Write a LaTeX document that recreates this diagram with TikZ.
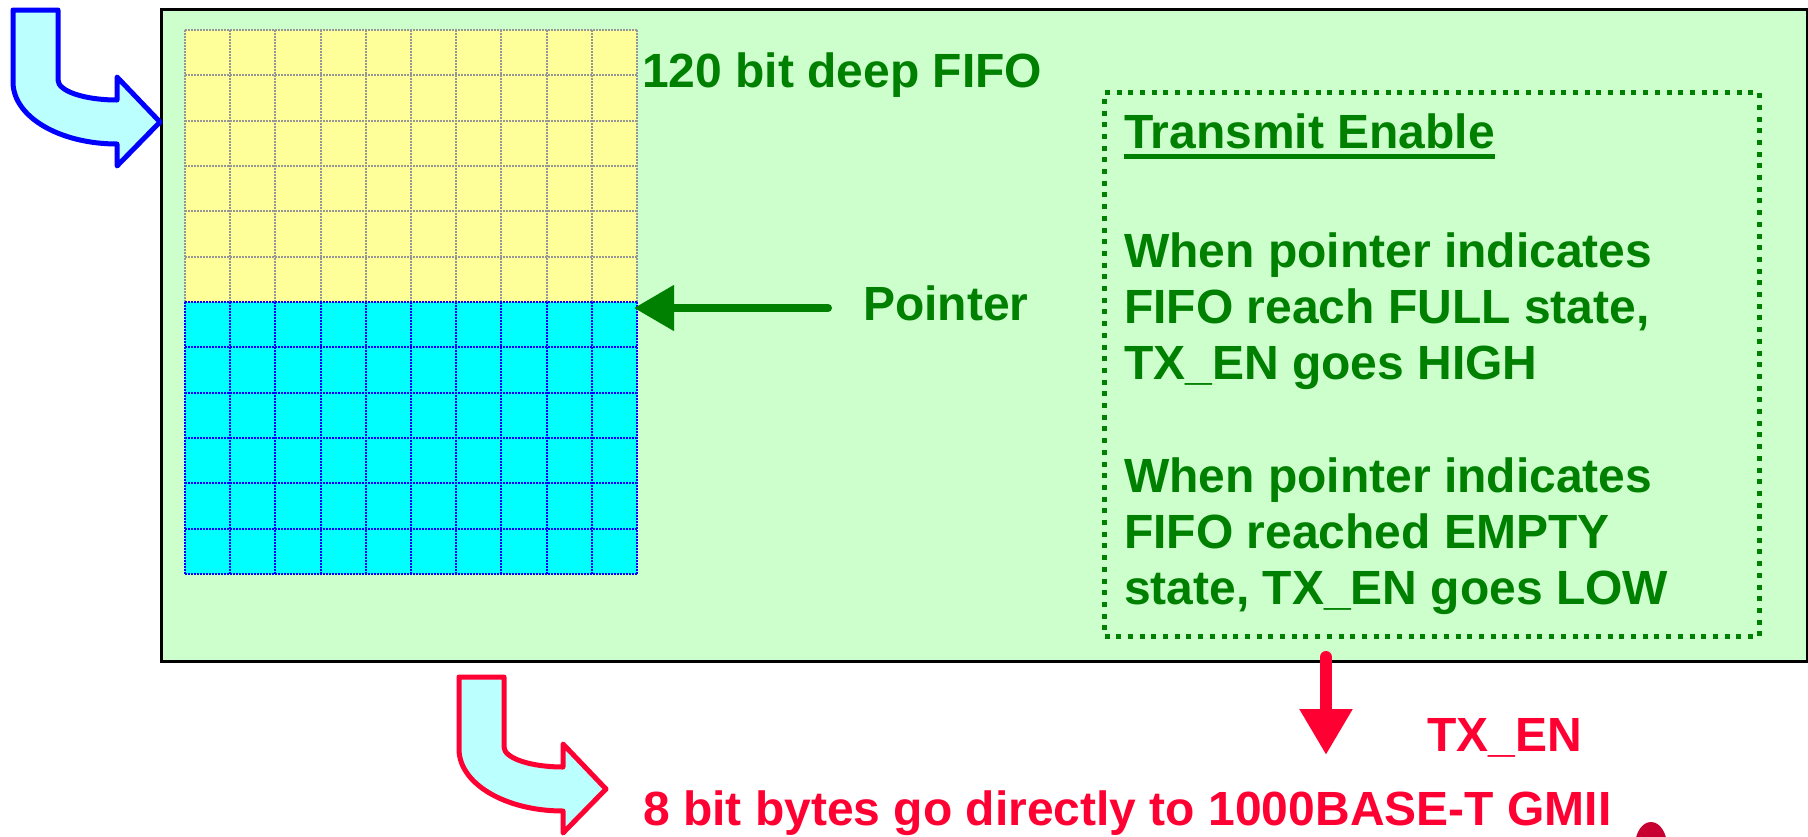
\documentclass[tikz,border=0pt]{standalone}
\usepackage{fontspec}
\setmainfont{Liberation Sans}
\usetikzlibrary{arrows.meta}
\definecolor{boxgreen}{RGB}{204,255,204}
\definecolor{txtgreen}{RGB}{0,128,0}
\definecolor{fifoyellow}{RGB}{255,255,153}
\definecolor{fifocyan}{RGB}{0,255,255}
\definecolor{arrowfill}{RGB}{187,255,255}
\definecolor{sigred}{RGB}{255,0,51}
\definecolor{gridgray}{RGB}{150,150,150}
\definecolor{blobred}{RGB}{200,0,50}
\tikzset{
  txt/.style={font=\fontsize{48}{56.2}\selectfont\bfseries, inner sep=0pt, text=txtgreen},
  redtxt/.style={txt, text=sigred},
  mainbox/.style={draw=black, line width=2.5pt, fill=boxgreen, inner sep=0pt, anchor=north west},
  tebox/.style={draw=txtgreen, line width=5pt, dash pattern=on 5pt off 6.7pt, inner sep=0pt, anchor=north west},
  cellarea/.style={inner sep=0pt, anchor=north west, minimum width=452pt, minimum height=272pt},
  ydots/.style={draw=gridgray, line width=2pt, dash pattern=on 1.5pt off 1.5pt},
  bdots/.style={draw=blue, line width=2pt, dash pattern=on 1.5pt off 1.5pt},
  underl/.style={draw=txtgreen, line width=5pt},
  ptrarrow/.style={draw=txtgreen, line width=8pt, line cap=round, -{Triangle[length=40pt,width=44pt]}},
  txarrow/.style={draw=sigred, line width=12pt, line cap=round, -{Triangle[length=46pt,width=50pt]}},
  bentarrow/.pic={\path[pic actions] (0,0) -- (45,0) -- (45,70) .. controls (45,81) and (71,90) .. (104,90) -- (104,67) -- (147,112) -- (104,156) -- (104,134) .. controls (47,134) and (0,107) .. (0,72) -- cycle;}
}
\begin{document}
\begin{tikzpicture}[x=1pt,y=-1pt]
\useasboundingbox (0,0) rectangle (1808,836);
% main box
\node[mainbox, minimum width=1646pt, minimum height=652pt] (main) at (160,8) {};
% FIFO cells
\node[cellarea, fill=fifoyellow] (yellowpart) at (185,30) {};
\node[cellarea, fill=fifocyan] (cyanpart) at (185,302) {};
\foreach \i in {0,...,10} \draw[ydots] ({185+45.2*\i},30) -- ({185+45.2*\i},302);
\foreach \j in {0,...,5} \draw[ydots] (185,{30+45.333*\j}) -- (637,{30+45.333*\j});
\foreach \i in {0,...,10} \draw[bdots] ({185+45.2*\i},302) -- ({185+45.2*\i},574);
\foreach \j in {0,...,6} \draw[bdots] (185,{302+45.333*\j}) -- (637,{302+45.333*\j});
% labels
\node[txt, anchor=base west] (fifolabel) at (642,87) {120 bit deep FIFO};
\node[txt, anchor=base west] (ptrlabel) at (863,320) {Pointer};
% pointer arrow
\coordinate (ptrtail) at (828,308);
\coordinate (ptrtip) at (634,308);
\draw[ptrarrow] (ptrtail) -- (ptrtip);
% transmit enable box
\node[tebox, minimum width=655pt, minimum height=544pt] (te) at (1102,90) {};
\node[txt, anchor=base west] (tetitle) at (1124,148) {Transmit Enable};
\draw[underl] ([yshift=-8.5pt]tetitle.base west) -- ([yshift=-8.5pt]tetitle.base east);
\node[txt, anchor=north west, align=left] (tetext) at (1124,232.6)
 {When pointer indicates\\
  FIFO reach FULL state,\\
  TX\_EN goes HIGH\\[56.2pt]
  When pointer indicates\\
  FIFO reached EMPTY\\
  state, TX\_EN goes LOW};
% TX_EN arrow
\coordinate (txtail) at (1326,657);
\coordinate (txtip) at (1326,755);
\draw[txarrow] (txtail) -- (txtip);
\node[redtxt, anchor=base west] (txlabel) at (1427,751) {TX\_EN};
% bent arrows
\pic[draw=blue, fill=arrowfill, line width=5pt, line join=round] (inarrow) at (13,10) {bentarrow};
\pic[draw=sigred, fill=arrowfill, line width=5pt, line join=round] (outarrow) at (459,677) {bentarrow};
\node[redtxt, anchor=base west] (outlabel) at (643,825) {8 bit bytes go directly to 1000BASE-T GMII};
% partial blob at bottom edge
\begin{scope}
\clip (1600,818) rectangle (1700,836);
\fill[blobred] (1651,846) ellipse [x radius=16pt, y radius=24pt];
\end{scope}
\end{tikzpicture}
\end{document}
